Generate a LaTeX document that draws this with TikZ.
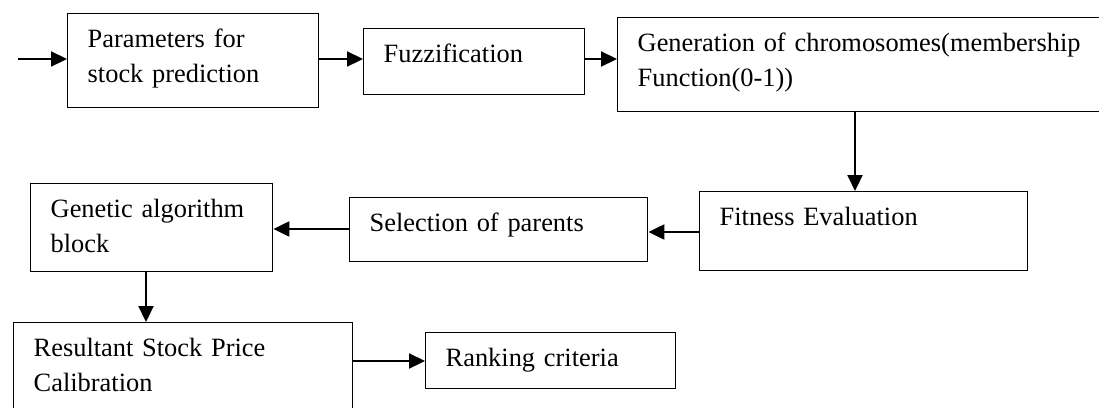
\documentclass[tikz,border=0pt]{standalone}
\usepackage{fontspec}
\setmainfont{Liberation Serif}
\usetikzlibrary{arrows.meta}

\begin{document}
\begin{tikzpicture}[x=1pt,y=-1pt]
	\tikzstyle{block_style} = [draw=black,line width=1.4pt,anchor=north west,align=left,inner xsep=20pt,inner ysep=0pt,text height=34pt,font=\fontsize{26.4}{35}\selectfont]
	\tikzstyle{arrow_style} = [draw=black,line width=2.2pt,-{Triangle[length=16pt,width=15pt]}]
	\useasboundingbox (0,0) rectangle (1099,407);
	\clip (0,0) rectangle (1099,407);
	\coordinate (start) at (18,59);
	\node[block_style,text width=211pt,text depth=60pt] (params) at (67,13) {Parameters for\\stock prediction};
	\node[block_style,text width=181pt,text depth=32pt] (fuzz) at (363,28) {Fuzzification};
	\node[block_style,text width=460pt,text depth=60pt] (chrom) at (617,17) {Generation of chromosomes(membership\\Function(0-1))};
	\node[block_style,text width=288pt,text depth=45pt] (fitness) at (699,191) {Fitness Evaluation};
	\node[block_style,text width=258pt,text depth=30pt] (parents) at (349,197) {Selection of parents};
	\node[block_style,text width=202pt,text depth=54pt] (ga) at (30,183) {Genetic algorithm\\block};
	\node[block_style,text width=299pt,text depth=70pt] (result) at (13,322) {Resultant Stock Price\\Calibration};
	\node[block_style,text width=210pt,text depth=22pt] (rank) at (425,332) {Ranking criteria};
	\draw[arrow_style] (start) -- (start -| params.west);
	\draw[arrow_style] (params.east |- 0,59) -- (fuzz.west |- 0,59);
	\draw[arrow_style] (fuzz.east |- 0,59) -- (chrom.west |- 0,59);
	\draw[arrow_style] (chrom.south -| 855,0) -- (fitness.north -| 855,0);
	\draw[arrow_style] (fitness.west |- 0,232) -- (parents.east |- 0,232);
	\draw[arrow_style] (parents.west |- 0,229) -- (ga.east |- 0,229);
	\draw[arrow_style] (ga.south -| 146,0) -- (result.north -| 146,0);
	\draw[arrow_style] (result.east |- 0,361) -- (rank.west |- 0,361);
\end{tikzpicture}
\end{document}
